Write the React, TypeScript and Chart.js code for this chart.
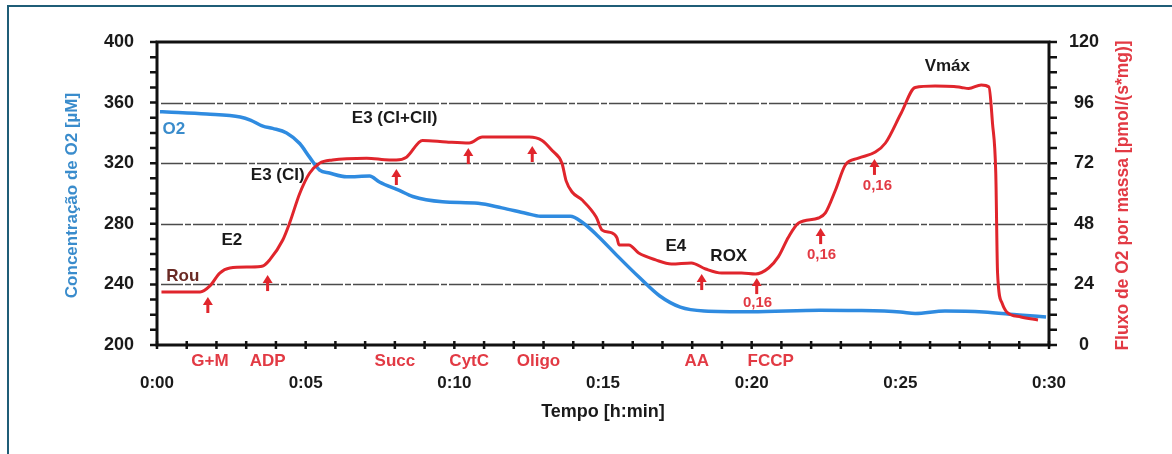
import React, { useEffect, useRef } from 'react';
import { Chart, registerables } from 'chart.js';

Chart.register(...registerables);

// ---- Data (minutes, values) ----
const o2Minutes = [0.1, 0.33, 1.67, 2.8, 3.14, 3.56, 3.89, 4.36, 4.8, 5.13, 5.47, 5.8, 6.38, 7.15, 7.48, 8.15, 8.6, 9.6, 10.8, 11.6, 12.4, 12.9, 13.9, 14.3, 14.8, 15.5, 16.2, 16.9, 17.6, 18.4, 20.0, 22.3, 23.5, 25.0, 25.5, 26.5, 27.8, 29.0, 29.9];
const o2Values = [354, 353.8, 352.5, 350.5, 348.5, 344.5, 343, 340, 333, 324, 315.5, 313.5, 311, 311.5, 307.6, 302, 298, 294.5, 293.5, 290.5, 287, 285, 285, 281, 272.5, 258.5, 245, 232.5, 225, 222.5, 222, 223, 222.8, 221.8, 220.8, 222.4, 221.8, 219.8, 218.5];

const fluxMinutes = [0.15, 1.0, 1.45, 1.78, 2.11, 2.45, 3.12, 3.56, 3.79, 4.23, 4.46, 4.8, 5.13, 5.47, 5.9, 7.05, 7.82, 8.05, 8.39, 8.93, 9.73, 10.5, 10.94, 12.52, 12.95, 13.29, 13.62, 13.76, 13.96, 14.3, 14.77, 14.97, 15.3, 15.47, 15.54, 15.87, 16.2, 16.77, 17.3, 17.97, 18.45, 18.99, 19.66, 20.13, 20.57, 20.9, 21.24, 21.58, 22.25, 22.48, 22.82, 23.15, 23.59, 24.16, 24.5, 25.03, 25.5, 26.17, 26.8, 27.05, 27.3, 27.72, 27.98, 28.1, 28.21, 28.27, 28.42, 28.57, 29.06, 29.63];
const fluxValues = [21, 21, 21, 23.4, 28.5, 30.5, 30.9, 31.3, 33.7, 41.6, 48.3, 60, 68, 72, 73.3, 74, 73.3, 73.3, 74.4, 81, 80.4, 80, 82.4, 82.4, 81, 77, 72, 65, 60.6, 57.4, 50.7, 45.5, 44.4, 42.4, 39.6, 39.6, 36.4, 33.7, 32.1, 32.5, 30.1, 28.5, 28.5, 28.1, 30.5, 35, 42.8, 48.3, 50.3, 52.3, 61.4, 71.3, 74, 76.4, 80, 91.9, 102, 102.6, 102.4, 102, 101.6, 103, 102.2, 87.8, 68, 28.5, 16.6, 13.2, 11.1, 9.9];

const xTickMinutes = [0, 5, 10, 15, 20, 25, 30];
const xTickLabels = ['0:00', '0:05', '0:10', '0:15', '0:20', '0:25', '0:30'];
const o2Ticks = [200, 240, 280, 320, 360, 400];
const fluxTicks = [0, 24, 48, 72, 96, 120];

// injections (labels under the axis)
const injectionNames = ['G+M', 'ADP', 'Succ', 'CytC', 'Oligo', 'AA', 'FCCP'];
const injectionMinutes = [1.78, 3.72, 8.0, 10.5, 12.83, 18.15, 20.64];
// arrows (minute, flux value of the tip)
const arrowMinutes = [1.71, 3.72, 8.05, 10.47, 12.62, 18.32, 20.17, 22.32, 24.13];
const arrowTipFlux = [19.0, 27.7, 69.7, 78, 78.8, 28.1, 26.5, 46.3, 73.7];
// FCCP titration doses
const doseLabels = ['0,16', '0,16', '0,16'];
const doseMinutes = [20.2, 22.35, 24.23];
const doseFlux = [16.6, 35.6, 63];
// respiratory states
const stateLabels = ['Rou', 'E2', 'E3 (CI)', 'E3 (CI+CII)', 'E4', 'ROX', 'Vmáx'];
const stateMinutes = [0.87, 2.52, 4.06, 7.99, 17.45, 19.23, 26.58];
const stateFlux = [27.3, 41.6, 67.3, 89.9, 39.2, 35.2, 110.5];
const o2LabelMinute = 0.57;
const o2LabelValue = 342.6;

const FONT = '"Liberation Sans", Arial, Helvetica, sans-serif';
const RED = '#e0252c';
const RED_TEXT = '#e23a44';
const BLUE = '#2f8be0';
const BLUE_TEXT = '#3a8ccc';

const overlay = {
  id: 'overlay',
  beforeDatasetsDraw(chart: any) {
    const { ctx, chartArea: a, scales } = chart;
    const yL = scales.yO2;
    ctx.save();
    ctx.strokeStyle = 'rgba(55,55,55,0.9)';
    ctx.lineWidth = 1.4;
    ctx.setLineDash([22, 2, 6, 2]);
    for (const v of o2Ticks.slice(1, -1)) {
      const y = Math.round(yL.getPixelForValue(v)) + 0.5;
      ctx.beginPath();
      ctx.moveTo(a.left + 4, y);
      ctx.lineTo(a.right, y);
      ctx.stroke();
    }
    ctx.restore();
  },
  afterDatasetsDraw(chart: any) {
    const { ctx, chartArea: a, scales } = chart;
    const x = scales.x;
    const yL = scales.yO2;
    const yR = scales.yFlux;
    ctx.save();
    // outer frame (left + top)
    ctx.fillStyle = '#1f5d77';
    ctx.fillRect(7, 5, 2, 460);
    ctx.fillRect(7, 5, 1170, 2);

    // plot frame
    ctx.strokeStyle = '#111';
    ctx.lineWidth = 3;
    ctx.strokeRect(a.left, a.top, a.right - a.left, a.bottom - a.top);

    // minor ticks
    ctx.lineWidth = 2.5;
    ctx.beginPath();
    for (let v = 200; v <= 400; v += 10) {
      const y = yL.getPixelForValue(v);
      ctx.moveTo(a.left - 7, y);
      ctx.lineTo(a.left, y);
    }
    for (let v = 0; v <= 120; v += 6) {
      const y = yR.getPixelForValue(v);
      ctx.moveTo(a.right, y);
      ctx.lineTo(a.right + 8, y);
    }
    for (let m = 0; m <= 30; m += 1) {
      const px = x.getPixelForValue(m);
      ctx.moveTo(px, a.bottom - 4);
      ctx.lineTo(px, a.bottom + 4);
    }
    ctx.stroke();

    ctx.textAlign = 'center';
    ctx.textBaseline = 'middle';

    // injection names under the axis
    ctx.font = `bold 17px ${FONT}`;
    ctx.fillStyle = RED_TEXT;
    injectionNames.forEach((n, i) => {
      ctx.fillText(n, x.getPixelForValue(injectionMinutes[i]), a.bottom + 16);
    });

    // arrows
    ctx.fillStyle = RED;
    ctx.strokeStyle = RED;
    arrowMinutes.forEach((m, i) => {
      const px = x.getPixelForValue(m);
      const tip = yR.getPixelForValue(arrowTipFlux[i]);
      ctx.lineWidth = 3;
      ctx.beginPath();
      ctx.moveTo(px, tip + 6);
      ctx.lineTo(px, tip + 16);
      ctx.stroke();
      ctx.beginPath();
      ctx.moveTo(px, tip);
      ctx.lineTo(px - 5, tip + 8);
      ctx.lineTo(px + 5, tip + 8);
      ctx.closePath();
      ctx.fill();
    });

    // dose labels
    ctx.font = `bold 15px ${FONT}`;
    ctx.fillStyle = RED_TEXT;
    doseLabels.forEach((d, i) => {
      ctx.fillText(d, x.getPixelForValue(doseMinutes[i]), yR.getPixelForValue(doseFlux[i]));
    });

    // state labels
    ctx.font = `bold 17px ${FONT}`;
    stateLabels.forEach((s, i) => {
      ctx.fillStyle = s === 'Rou' ? '#6a2a24' : '#1a1a1a';
      ctx.fillText(s, x.getPixelForValue(stateMinutes[i]), yR.getPixelForValue(stateFlux[i]));
    });
    ctx.fillStyle = BLUE_TEXT;
    ctx.fillText('O2', x.getPixelForValue(o2LabelMinute), yL.getPixelForValue(o2LabelValue));

    // axis titles
    const midY = (a.top + a.bottom) / 2 + 2;
    ctx.font = `bold 17px ${FONT}`;
    ctx.fillStyle = BLUE_TEXT;
    ctx.save();
    ctx.translate(72, midY);
    ctx.rotate(-Math.PI / 2);
    ctx.fillText('Concentração de O2 [µM]', 0, 0);
    ctx.restore();
    ctx.fillStyle = RED_TEXT;
    ctx.font = `bold 17.5px ${FONT}`;
    ctx.save();
    ctx.translate(1123, midY);
    ctx.rotate(-Math.PI / 2);
    ctx.fillText('Fluxo de O2 por massa [pmol/(s*mg)]', 0, 0);
    ctx.restore();
    ctx.fillStyle = '#1a1a1a';
    ctx.font = `bold 18px ${FONT}`;
    ctx.fillText('Tempo [h:min]', (a.left + a.right) / 2, 412);

    ctx.restore();
  },
};

export default function App() {
  const ref = useRef<HTMLCanvasElement | null>(null);
  useEffect(() => {
    if (!ref.current) return;
    const tickFont = { family: FONT, weight: 'bold' as const, size: 18 };
    const chart = new Chart(ref.current, {
      type: 'line',
      data: {
        datasets: [
          {
            label: 'Fluxo de O2',
            data: fluxMinutes.map((m, i) => ({ x: m, y: fluxValues[i] })),
            yAxisID: 'yFlux',
            borderColor: RED,
            borderWidth: 3,
            pointRadius: 0,
            cubicInterpolationMode: 'monotone',
            fill: false,
          },
          {
            label: 'O2',
            data: o2Minutes.map((m, i) => ({ x: m, y: o2Values[i] })),
            yAxisID: 'yO2',
            borderColor: BLUE,
            borderWidth: 3.5,
            pointRadius: 0,
            cubicInterpolationMode: 'monotone',
            fill: false,
          },
        ],
      },
      options: {
        animation: false,
        responsive: false,
        events: [],
        layout: { padding: { top: 42, left: 0, right: 0, bottom: 0 } },
        plugins: { legend: { display: false }, tooltip: { enabled: false } },
        scales: {
          x: {
            type: 'linear',
            position: 'bottom',
            min: 0,
            max: 30,
            afterBuildTicks: (s: any) => {
              s.ticks = xTickMinutes.map((v) => ({ value: v }));
            },
            afterFit: (s: any) => {
              s.height = 109;
            },
            ticks: {
              autoSkip: false,
              maxRotation: 0,
              padding: 28,
              color: '#1a1a1a',
              font: { ...tickFont, size: 17 },
              callback: (v: any) => xTickLabels[xTickMinutes.indexOf(Number(v))] ?? '',
            },
            grid: { display: false, drawTicks: false },
            border: { display: false },
          },
          yO2: {
            type: 'linear',
            position: 'left',
            min: 200,
            max: 400,
            afterBuildTicks: (s: any) => {
              s.ticks = o2Ticks.map((v) => ({ value: v }));
            },
            afterFit: (s: any) => {
              s.width = 157;
            },
            ticks: { padding: 23, color: '#1a1a1a', font: tickFont },
            grid: { display: false, drawTicks: false },
            border: { display: false },
          },
          yFlux: {
            type: 'linear',
            position: 'right',
            min: 0,
            max: 120,
            afterBuildTicks: (s: any) => {
              s.ticks = fluxTicks.map((v) => ({ value: v }));
            },
            afterFit: (s: any) => {
              s.width = 123;
            },
            ticks: { padding: 20, crossAlign: 'center', color: '#1a1a1a', font: tickFont },
            grid: { display: false, drawTicks: false },
            border: { display: false },
          },
        },
      },
      plugins: [overlay],
    });
    return () => chart.destroy();
  }, []);
  return (
    <canvas
      ref={ref}
      width={1172}
      height={454}
      style={{ position: 'fixed', left: 0, top: 0, width: 1172, height: 454, background: '#fff' }}
    />
  );
}
